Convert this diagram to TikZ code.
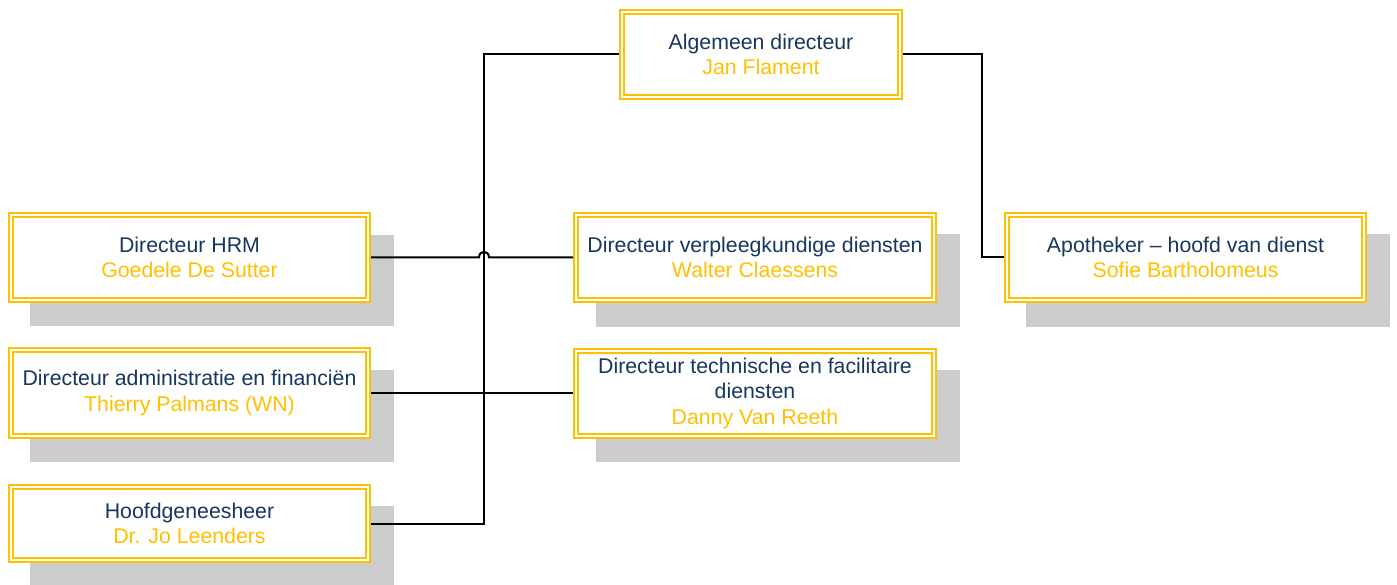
\documentclass[tikz,border=0pt]{standalone}
\usepackage{fontspec}
\setmainfont{Liberation Sans}
\usepackage{xcolor}
\definecolor{goud}{HTML}{FFC000}
\definecolor{navy}{HTML}{17375E}
\definecolor{schaduw}{HTML}{CCCCCC}
\newcommand{\naam}[1]{\textcolor{goud}{#1}}

\begin{document}
\begin{tikzpicture}[x=1pt,y=-1pt,
  functie/.style={draw=goud,double=white,line width=2pt,double distance=2pt,fill=white,
    inner sep=0pt,outer sep=3pt,minimum width=357pt,minimum height=85pt,align=center,
    text=navy,font=\fontsize{21.3}{25.5}\selectfont},
  lijn/.style={line width=2pt,black}]
\useasboundingbox (0,0) rectangle (1397,585);
\fill[schaduw] (30,235) rectangle (394,326);
\fill[schaduw] (30,370) rectangle (394,462);
\fill[schaduw] (30,506) rectangle (394,585);
\fill[schaduw] (596,234) rectangle (960,327);
\fill[schaduw] (596,370) rectangle (960,462);
\fill[schaduw] (1026,234) rectangle (1390,327);
\node[functie,minimum width=278pt] (directeur) at (761,54.5) {Algemeen directeur\\\naam{Jan Flament}};
\node[functie] (hrm) at (189.5,257.5) {Directeur HRM\\\naam{Goedele De Sutter}};
\node[functie,minimum height=86pt] (financien) at (189.5,393) {Directeur administratie en financiën\\\naam{Thierry Palmans (WN)}};
\node[functie,minimum height=73pt] (hoofdgen) at (189.5,523.5) {Hoofdgeneesheer\\\naam{Dr. Jo Leenders}};
\node[functie,minimum width=358pt] (verpleeg) at (755,257.5) {Directeur verpleegkundige diensten\\\naam{Walter Claessens}};
\node[functie,minimum width=358pt] (techniek) at (755,393) {Directeur technische en facilitaire\\diensten\\\naam{Danny Van Reeth}};
\node[functie] (apotheek) at (1185.5,257.5) {Apotheker -- hoofd van dienst\\\naam{Sofie Bartholomeus}};
\coordinate (links) at (484,0);
\coordinate (rechts) at (982,0);
\draw[lijn] (directeur.west) -- (directeur.west -| links) -- (hoofdgen.east -| links) -- (hoofdgen.east);
\draw[lijn] (directeur.east) -- (directeur.east -| rechts) |- (apotheek.west);
\draw[lijn] (hrm.east) -- (479,257.5) .. controls (479,250) and (489,250) .. (489,257.5) -- (verpleeg.west);
\draw[lijn] (financien.east) -- (techniek.west);
\end{tikzpicture}
\end{document}
